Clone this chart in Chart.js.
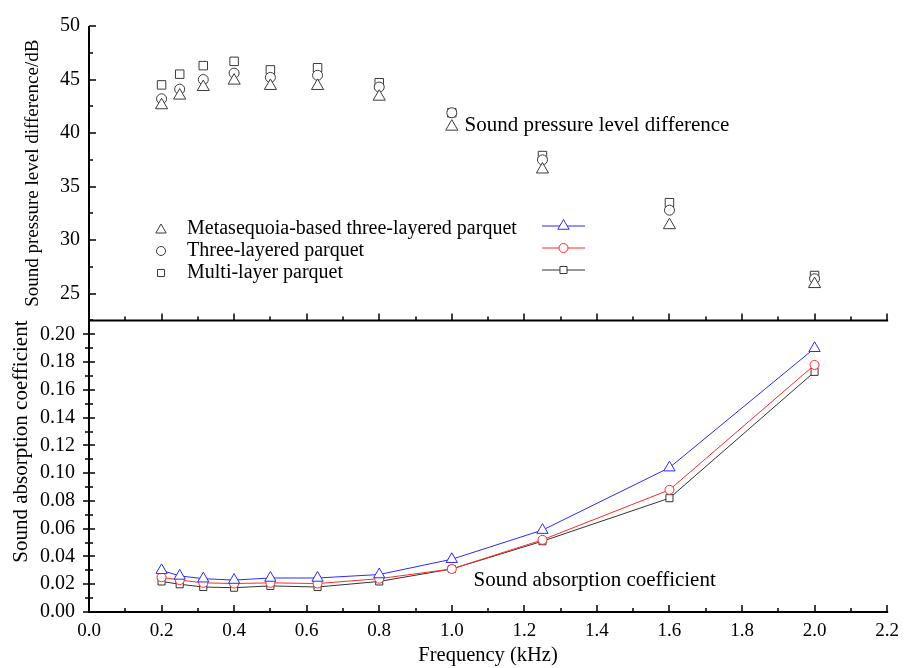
<!DOCTYPE html>
<html>
<head>
<meta charset="utf-8">
<title>Sound pressure level difference and sound absorption coefficient</title>
<script src="https://cdn.jsdelivr.net/npm/chart.js@4.4.1/dist/chart.umd.min.js"></script>
<style>
  html, body { margin: 0; padding: 0; background: #fff; }
  #chart { display: block; }
</style>
</head>
<body>
<canvas id="chart" width="907" height="668"></canvas>
<script>
// ================= DATA =================
// frequencies (kHz)
const freqs = [0.2, 0.25, 0.315, 0.4, 0.5, 0.63, 0.8, 1.0, 1.25, 1.6, 2.0];

const seriesNames = ["Metasequoia-based three-layered parquet", "Three-layered parquet", "Multi-layer parquet"];

// sound pressure level difference (dB)
const splMeta  = [42.6, 43.5, 44.3, 44.9, 44.4, 44.4, 43.4, 40.6, 36.6, 31.4, 25.9];
const splThree = [43.2, 44.1, 45.0, 45.6, 45.2, 45.4, 44.3, 41.9, 37.5, 32.8, 26.4];
const splMulti = [44.5, 45.5, 46.3, 46.7, 45.9, 46.1, 44.7, 41.9, 37.9, 33.5, 26.7];

// sound absorption coefficient
const absMeta  = [0.030, 0.026, 0.024, 0.023, 0.0245, 0.0245, 0.027, 0.038, 0.059, 0.104, 0.190];
const absThree = [0.025, 0.023, 0.021, 0.0205, 0.021, 0.0205, 0.024, 0.031, 0.052, 0.088, 0.178];
const absMulti = [0.022, 0.020, 0.018, 0.0175, 0.0188, 0.018, 0.022, 0.031, 0.051, 0.082, 0.173];

// tick labels
const freqTicks = [0, 0.2, 0.4, 0.6, 0.8, 1.0, 1.2, 1.4, 1.6, 1.8, 2.0, 2.2];
const splTicks = [25, 30, 35, 40, 45, 50];
const absTicks = [0, 0.02, 0.04, 0.06, 0.08, 0.10, 0.12, 0.14, 0.16, 0.18, 0.20];

// ================= STYLE =================
const SERIF = "'Liberation Serif', 'Times New Roman', serif";
const markGray = "#3a3a3a";
const lineColors = ["#2a2aff", "#ff2a2a", "#333333"];
const shapes = ["triangle", "circle", "rect"];

function toPoints(ys) {
    return freqs.map((f, i) => ({ x: f, y: ys[i] }));
}

function drawMarker(ctx, shape, x, y, r, stroke) {
    ctx.beginPath();
    if (shape === "triangle") {
        ctx.moveTo(x, y - r);
        ctx.lineTo(x + r * 0.866, y + r * 0.5);
        ctx.lineTo(x - r * 0.866, y + r * 0.5);
        ctx.closePath();
    } else if (shape === "circle") {
        ctx.arc(x, y, r, 0, Math.PI * 2);
    } else {
        const s = r * Math.SQRT1_2;
        ctx.rect(x - s, y - s, 2 * s, 2 * s);
    }
    ctx.fillStyle = "#fff";
    ctx.fill();
    ctx.strokeStyle = stroke;
    ctx.lineWidth = 1;
    ctx.stroke();
}

// ================= DATASETS =================
const splSets = [splMeta, splThree, splMulti].map((ys, i) => ({
    label: seriesNames[i] + " (SPL)",
    data: toPoints(ys),
    yAxisID: "yTop",
    showLine: false,
    pointStyle: shapes[i],
    pointRadius: [7, 5, 6][i],
    pointBorderColor: markGray,
    pointBackgroundColor: "#fff",
    pointBorderWidth: 1
}));

const absSets = [absMeta, absThree, absMulti].map((ys, i) => ({
    label: seriesNames[i],
    data: toPoints(ys),
    yAxisID: "yBot",
    showLine: true,
    borderColor: lineColors[i],
    borderWidth: 1,
    pointStyle: shapes[i],
    pointRadius: [6.5, 4.5, 5][i],
    pointBorderColor: lineColors[i],
    pointBackgroundColor: "#fff",
    pointBorderWidth: 1
}));

// ================= AXES + LEGEND PLUGIN =================
const frame = {
    id: "frame",
    afterDatasetsDraw(chart) {
        const ctx = chart.ctx;
        const x = chart.scales.x, yt = chart.scales.yTop, yb = chart.scales.yBot;
        const left = x.left, right = x.right;

        ctx.save();
        ctx.strokeStyle = "#000";
        ctx.lineWidth = 2;
        ctx.beginPath();
        ctx.moveTo(left, yt.top);
        ctx.lineTo(left, yb.bottom + 1);
        ctx.moveTo(left - 1, yb.bottom);
        ctx.lineTo(right + 1, yb.bottom);
        ctx.moveTo(left - 1, yt.bottom);
        ctx.lineTo(right + 1, yt.bottom);
        ctx.stroke();

        ctx.lineWidth = 1.5;
        ctx.beginPath();
        // frequency ticks, pointing up on both horizontal axes
        for (let i = 0; i <= 22; i++) {
            const px = Math.round(x.getPixelForValue(i / 10));
            const len = i % 2 === 0 ? 7 : 4;
            [yb.bottom, yt.bottom].forEach(py => {
                ctx.moveTo(px, py);
                ctx.lineTo(px, py - len);
            });
        }
        // top panel: inward ticks
        for (let v = 22.5; v <= 50; v += 2.5) {
            const py = Math.round(yt.getPixelForValue(v));
            const len = v % 5 === 0 ? 7 : 4;
            ctx.moveTo(left, py);
            ctx.lineTo(left + len, py);
        }
        // bottom panel: ticks crossing the axis
        for (let i = 0; i <= 20; i++) {
            const py = Math.round(yb.getPixelForValue(i / 100));
            const len = i % 2 === 0 ? 6 : 4;
            ctx.moveTo(left - len, py);
            ctx.lineTo(left + len, py);
        }
        ctx.stroke();

        // text notes
        ctx.fillStyle = "#000";
        ctx.font = "21px " + SERIF;
        ctx.textBaseline = "middle";
        ctx.textAlign = "left";
        ctx.fillText("Sound pressure level difference", x.getPixelForValue(1.035), yt.getPixelForValue(40.74));
        ctx.fillText("Sound absorption coefficient", x.getPixelForValue(1.06), yb.getPixelForValue(0.0224));

        // legend
        ctx.font = "20px " + SERIF;
        const rows = [229, 251, 273];
        seriesNames.forEach((name, i) => {
            drawMarker(ctx, shapes[i], 161, rows[i] + (i === 0 ? 1 : 0), [6, 4.5, 5][i], markGray);
            ctx.fillStyle = "#000";
            ctx.fillText(name, 187, rows[i]);
            const ly = rows[i] - 3;
            ctx.strokeStyle = lineColors[i];
            ctx.lineWidth = 1;
            ctx.beginPath();
            ctx.moveTo(542, ly);
            ctx.lineTo(585, ly);
            ctx.stroke();
            drawMarker(ctx, shapes[i], 563.5, ly, [6.5, 4.5, 5][i], lineColors[i]);
        });
        ctx.restore();
    }
};

// ================= CHART =================
const tickFont = { family: SERIF, size: 20 };

new Chart(document.getElementById("chart"), {
    type: "scatter",
    data: { datasets: [...absSets, ...splSets] },
    options: {
        responsive: false,
        animation: false,
        layout: { padding: { top: 21, right: 13, left: 0, bottom: 0 } },
        plugins: {
            legend: { display: false },
            tooltip: { enabled: false }
        },
        scales: {
            x: {
                type: "linear",
                position: "bottom",
                min: 0,
                max: 2.2,
                afterBuildTicks: s => { s.ticks = freqTicks.map(v => ({ value: v })); },
                afterFit: s => { s.height = 56; },
                ticks: {
                    font: { family: SERIF, size: 19 },
                    color: "#000",
                    padding: 8,
                    maxRotation: 0,
                    autoSkip: false,
                    callback: v => v.toFixed(1)
                },
                grid: { display: false, drawTicks: false },
                border: { display: false },
                title: {
                    display: true,
                    text: "Frequency (kHz)",
                    font: { family: SERIF, size: 20.5 },
                    color: "#000",
                    padding: { top: 0, bottom: 0 }
                }
            },
            yBot: {
                type: "linear",
                position: "left",
                stack: "panels",
                stackWeight: 294,
                min: 0,
                max: 0.21,
                afterBuildTicks: s => { s.ticks = absTicks.map(v => ({ value: v })); },
                afterFit: s => { s.width = 89; },
                ticks: {
                    font: tickFont,
                    color: "#000",
                    padding: 14,
                    autoSkip: false,
                    callback: v => v.toFixed(2)
                },
                grid: { display: false, drawTicks: false },
                border: { display: false },
                title: {
                    display: true,
                    text: "Sound absorption coefficient",
                    align: "end",
                    font: { family: SERIF, size: 21 },
                    color: "#000",
                    padding: { top: 9, bottom: 0 }
                }
            },
            yTop: {
                type: "linear",
                position: "left",
                stack: "panels",
                stackWeight: 297,
                min: 22.5,
                max: 50,
                afterBuildTicks: s => { s.ticks = splTicks.map(v => ({ value: v })); },
                afterFit: s => { s.width = 89; },
                ticks: {
                    font: tickFont,
                    color: "#000",
                    padding: 9,
                    autoSkip: false,
                    callback: v => String(v)
                },
                grid: { display: false, drawTicks: false },
                border: { display: false },
                title: {
                    display: true,
                    text: "Sound pressure level difference/dB",
                    font: { family: SERIF, size: 19 },
                    color: "#000",
                    padding: { top: 22, bottom: 0 }
                }
            }
        }
    },
    plugins: [frame]
});
</script>
</body>
</html>
